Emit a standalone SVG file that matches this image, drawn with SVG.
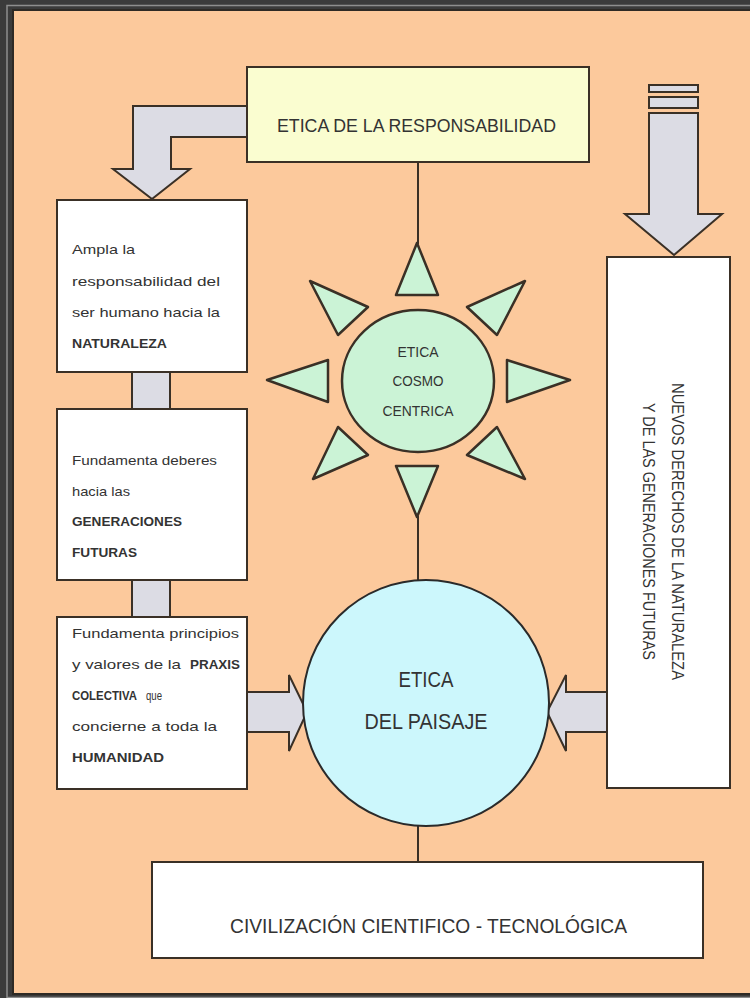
<svg xmlns="http://www.w3.org/2000/svg" width="750" height="998" viewBox="0 0 750 998">
<style>
.box{fill:#ffffff;stroke:#3a3026;stroke-width:2}
.arr{fill:#dcdce4;stroke:#3a3026;stroke-width:2;stroke-linejoin:miter}
.ln{stroke:#3a3026;stroke-width:2;fill:none}
.ray{fill:#cbf3d6;stroke:#3a3026;stroke-width:2.5;stroke-linejoin:round}
.t{font-family:"Liberation Sans",Arial,sans-serif;fill:#333333}
.s{font-size:13px}
.b{font-weight:bold}
.h{font-size:19px}
</style>
<rect x="0" y="0" width="750" height="998" fill="#3b3b3b"/>
<rect x="7" y="5.5" width="750" height="992" fill="none" stroke="#8e8e8e" stroke-width="1.5"/>
<rect x="13" y="10" width="750" height="984" fill="#fcc99c" stroke="#2e2a25" stroke-width="2"/>

<g id="connectors">
  <line class="ln" x1="418" y1="162" x2="418" y2="244"/>
  <line class="ln" x1="418" y1="516" x2="418" y2="581"/>
  <line class="ln" x1="418" y1="826" x2="418" y2="862"/>
  <path class="arr" d="M247,106 L133,106 L133,169 L113,169 L152,199 L190,169 L171,169 L171,137 L247,137"/>
  <rect class="arr" x="649" y="85" width="49" height="7"/>
  <rect class="arr" x="649" y="97" width="49" height="11"/>
  <path class="arr" d="M649,113 L698,113 L698,214 L722,214 L674,255 L625,214 L649,214 Z"/>
  <rect class="arr" x="132" y="372" width="38" height="37"/>
  <rect class="arr" x="132" y="580" width="38" height="37"/>
  <path class="arr" d="M247,692 L289,692 L289,675 L307,712 L289,751 L289,732 L247,732"/>
  <path class="arr" d="M607,692 L566,692 L566,675 L547,712 L566,751 L566,732 L607,732"/>
</g>

<g id="etica-responsabilidad">
  <rect x="247" y="67" width="342" height="95" fill="#fafdd0" stroke="#3a3026" stroke-width="2"/>
  <text class="t h" x="277" y="132" textLength="279" lengthAdjust="spacingAndGlyphs">ETICA DE LA RESPONSABILIDAD</text>
</g>

<g id="box-naturaleza">
  <rect class="box" x="57" y="200" width="190" height="172"/>
  <text class="t s" x="72" y="254" textLength="63" lengthAdjust="spacingAndGlyphs">Ampla la</text>
  <text class="t s" x="72" y="286" textLength="148" lengthAdjust="spacingAndGlyphs">responsabilidad del</text>
  <text class="t s" x="72" y="317" textLength="148" lengthAdjust="spacingAndGlyphs">ser humano hacia  la</text>
  <text class="t s b" x="72" y="348" textLength="95" lengthAdjust="spacingAndGlyphs">NATURALEZA</text>
</g>

<g id="box-generaciones">
  <rect class="box" x="57" y="409" width="190" height="171"/>
  <text class="t s" x="72" y="465" textLength="145" lengthAdjust="spacingAndGlyphs">Fundamenta deberes</text>
  <text class="t s" x="72" y="496" textLength="58" lengthAdjust="spacingAndGlyphs">hacia las</text>
  <text class="t s b" x="72" y="526" textLength="110" lengthAdjust="spacingAndGlyphs">GENERACIONES</text>
  <text class="t s b" x="72" y="557" textLength="65" lengthAdjust="spacingAndGlyphs">FUTURAS</text>
</g>

<g id="box-praxis">
  <rect class="box" x="57" y="617" width="190" height="172"/>
  <text class="t s" x="72" y="638" textLength="167" lengthAdjust="spacingAndGlyphs">Fundamenta principios</text>
  <text class="t s" x="72" y="669" textLength="109" lengthAdjust="spacingAndGlyphs">y valores de la</text>
  <text class="t s b" x="190" y="669" textLength="50" lengthAdjust="spacingAndGlyphs">PRAXIS</text>
  <text class="t s b" x="72" y="700" textLength="65" lengthAdjust="spacingAndGlyphs">COLECTIVA</text>
  <text class="t s" x="146" y="700" textLength="16" lengthAdjust="spacingAndGlyphs">que</text>
  <text class="t s" x="72" y="731" textLength="145" lengthAdjust="spacingAndGlyphs">concierne a toda la</text>
  <text class="t s b" x="72" y="762" textLength="92" lengthAdjust="spacingAndGlyphs">HUMANIDAD</text>
</g>

<g id="etica-cosmocentrica">
  <polygon class="ray" points="417,243 396,295 438,295"/>
  <polygon class="ray" points="396,466 438,466 417,517"/>
  <polygon class="ray" points="267,380 328,360 328,402"/>
  <polygon class="ray" points="570,380 507,360 507,402"/>
  <polygon class="ray" points="310,281 368,307 338,335"/>
  <polygon class="ray" points="525,281 467,307 497,335"/>
  <polygon class="ray" points="313,479 338,427 368,455"/>
  <polygon class="ray" points="525,479 497,427 467,455"/>
  <ellipse cx="418" cy="381" rx="76" ry="71" fill="#cbf3d6" stroke="#3a3026" stroke-width="2.5"/>
  <text class="t" font-size="15" x="418" y="357" text-anchor="middle" textLength="41" lengthAdjust="spacingAndGlyphs">ETICA</text>
  <text class="t" font-size="15" x="418" y="386" text-anchor="middle" textLength="51" lengthAdjust="spacingAndGlyphs">COSMO</text>
  <text class="t" font-size="15" x="418" y="416" text-anchor="middle" textLength="71" lengthAdjust="spacingAndGlyphs">CENTRICA</text>
</g>

<g id="etica-paisaje">
  <circle cx="426" cy="703" r="123" fill="#ccf7fc" stroke="#2a2a2a" stroke-width="2"/>
  <text class="t" font-size="22" x="426" y="687" text-anchor="middle" textLength="55" lengthAdjust="spacingAndGlyphs">ETICA</text>
  <text class="t" font-size="22" x="426" y="729" text-anchor="middle" textLength="123" lengthAdjust="spacingAndGlyphs">DEL PAISAJE</text>
</g>

<g id="nuevos-derechos">
  <rect class="box" x="607" y="257" width="123" height="531"/>
  <text class="t" font-size="16" transform="translate(672,383) rotate(90)" textLength="297" lengthAdjust="spacingAndGlyphs">NUEVOS  DERECHOS DE  LA NATURALEZA</text>
  <text class="t" font-size="16" transform="translate(643,403) rotate(90)" textLength="257" lengthAdjust="spacingAndGlyphs">Y DE LAS GENERACIONES  FUTURAS</text>
</g>

<g id="civilizacion">
  <rect class="box" x="152" y="862" width="551" height="96"/>
  <text class="t" font-size="21" x="230" y="933" textLength="397" lengthAdjust="spacingAndGlyphs">CIVILIZACIÓN CIENTIFICO - TECNOLÓGICA</text>
</g>
</svg>
